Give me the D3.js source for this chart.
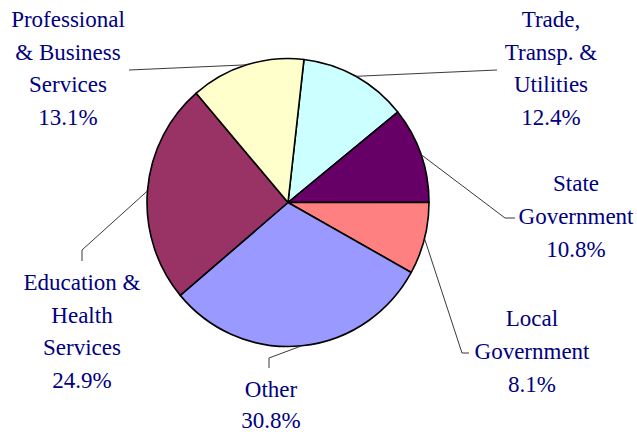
<!DOCTYPE html>
<html>
<head>
<meta charset="utf-8">
<script src="https://cdn.jsdelivr.net/npm/d3@7"></script>
<style>
  html, body { margin: 0; padding: 0; background: #fff; }
  svg { display: block; }
</style>
</head>
<body>
<svg id="chart" width="637" height="432"></svg>
<script>
// ---- Data ----
const categories = ["Trade, Transp. & Utilities", "State Government", "Local Government", "Other", "Education & Health Services", "Professional & Business Services"];
const labelLines = [
  ["Trade,", "Transp. &", "Utilities"],
  ["State", "Government"],
  ["Local", "Government"],
  ["Other"],
  ["Education &", "Health", "Services"],
  ["Professional", "& Business", "Services"]
];
const values = [12.4, 10.8, 8.1, 30.8, 24.9, 13.1];
const colors = ["#CCFFFF", "#660066", "#FF8080", "#9999FF", "#993366", "#FFFFCC"];

// ---- Layout (positions only) ----
const cx = 288, cy = 202.5, rx = 141, ry = 144;
const startDeg = 6.5;
const labelLayout = [
  { x: 551, y: 27, lh: 32.7, leader: [[497, 70]] },
  { x: 576, y: 191, lh: 32.8, leader: [[515, 218], [505, 218]] },
  { x: 532, y: 326, lh: 32.8, leader: [[469, 353], [462, 353]] },
  { x: 271, y: 396.5, lh: 31, leader: [[269, 368], [269, 358]] },
  { x: 82, y: 290, lh: 32.7, leader: [[82, 261], [82, 250]] },
  { x: 68, y: 27, lh: 32.7, leader: [[129, 70]] }
];

const svg = d3.select("#chart");
const pie = d3.pie().sort(null).value(d => d)
  .startAngle(startDeg * Math.PI / 180)
  .endAngle(startDeg * Math.PI / 180 + 2 * Math.PI);
const arcs = pie(values);
const arc = d3.arc().innerRadius(0).outerRadius(rx);

const g = svg.append("g").attr("transform", `translate(${cx},${cy}) scale(1,${ry / rx})`);
g.selectAll("path").data(arcs).enter().append("path")
  .attr("d", arc)
  .attr("fill", (d, i) => colors[i])
  .attr("stroke", "#000")
  .attr("stroke-width", 1.6)
  .attr("vector-effect", "non-scaling-stroke")
  .attr("stroke-linejoin", "round");

const line = d3.line();
arcs.forEach((d, i) => {
  const mid = (d.startAngle + d.endAngle) / 2;
  const px = cx + rx * Math.sin(mid);
  const py = cy - ry * Math.cos(mid);
  const pts = labelLayout[i].leader.concat([[px, py]]);
  svg.append("path")
    .attr("d", line(pts))
    .attr("fill", "none")
    .attr("stroke", "#222")
    .attr("stroke-width", 0.9);
});

labelLayout.forEach((L, i) => {
  const lines = labelLines[i].concat([values[i].toFixed(1) + "%"]);
  lines.forEach((s, k) => {
    svg.append("text")
      .attr("x", L.x)
      .attr("y", L.y + k * L.lh)
      .attr("text-anchor", "middle")
      .style("font-family", '"Liberation Serif", "Times New Roman", serif')
      .style("font-size", "23px")
      .style("fill", "#000080")
      .text(s);
  });
});
</script>
</body>
</html>
